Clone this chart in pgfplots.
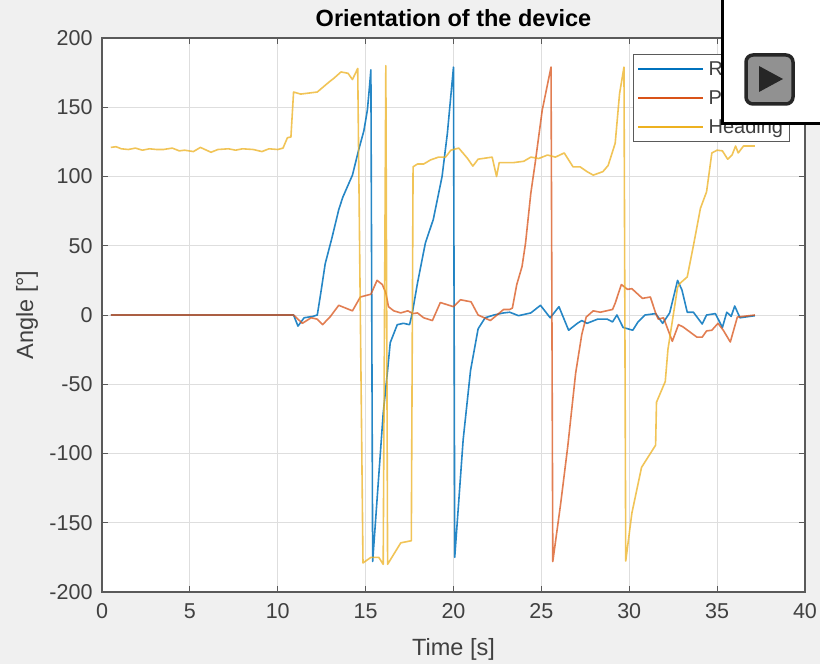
\documentclass[border=0pt]{standalone}
\usepackage{fontspec}
\setmainfont{Liberation Sans}
\usepackage{pgfplots}
\pgfplotsset{compat=1.18}
\definecolor{figbg}{HTML}{F0F0F0}
\definecolor{txt}{HTML}{404040}
\definecolor{axln}{HTML}{5A5A5A}
\definecolor{roll}{HTML}{0072BD}
\definecolor{pitch}{HTML}{D95319}
\definecolor{head}{HTML}{EDB120}
\begin{document}
\begin{tikzpicture}[x=1pt,y=1pt]
\useasboundingbox (0,0) rectangle (820,664);
\fill[figbg] (0,0) rectangle (820,664);
\begin{axis}[
  at={(102pt,72pt)},anchor=south west,
  scale only axis,width=703pt,height=554pt,
  xmin=0,xmax=40,ymin=-200,ymax=200,
  xtick={0,5,...,40},ytick={-200,-150,...,200},
  axis background/.style={fill=white},
  axis line style={draw=axln,line width=1.1pt},
  tick style={draw=axln,line width=0.8pt},
  tick align=inside,major tick length=6pt,
  xtick pos=both,ytick pos=both,
  grid=major,grid style={draw=black!13,line width=0.9pt},
  tick label style={font=\fontsize{21.5}{24}\selectfont,text=txt},
  /pgf/number format/assume math mode=true,
  /pgf/number format/fixed,
  xticklabel style={yshift=-8pt},
  yticklabel style={xshift=-6pt},
  xlabel={Time [s]},ylabel={Angle [°]},
  label style={font=\fontsize{23.5}{26}\selectfont,text=txt},
  xlabel style={at={(axis description cs:0.5,0)},anchor=center,yshift=-57pt},
  ylabel style={at={(axis description cs:0,0.5)},anchor=center,rotate=0,yshift=75pt},
  title={\textbf{Orientation of the device}},
  title style={font=\fontsize{23.5}{26}\selectfont,text=black,at={(axis description cs:0.5,1)},anchor=center,yshift=14pt},
  legend style={at={(0.755,0.971)},anchor=north west,draw=axln,line width=1pt,fill=white,
    font=\fontsize{20}{23}\selectfont,text=txt,inner xsep=4pt,inner ysep=4.5pt,
    row sep=9pt,cells={anchor=west}},
  legend image code/.code={\draw[#1,opacity=1,line width=2pt] (0pt,0pt) -- (65pt,0pt);\path (67.5pt,0pt);},
  clip=true,
]
\addplot[roll,line width=1.6pt,opacity=0.85,line join=round] coordinates {
(0.5,0)(5,0)(10.9,0)(11.15,-8)(11.5,-2)(12,-1)(12.25,0)(12.45,16)(12.7,37)(13.07,55)(13.47,76)(13.7,85)(14.25,101)(14.6,119)(14.9,133)(15.1,148)(15.2,162)(15.3,177)
(15.4,-178)(16.0,-71)(16.25,-40)(16.4,-20)(16.8,-7)(17.15,-6)(17.5,-7)(17.65,1)(17.95,23)(18.4,52)(18.85,69)(19.35,100)(19.65,131)(20,179)
(20.07,-175)(20.55,-90)(20.97,-40)(21.4,-10)(21.8,-2)(22.3,0)(22.85,1.5)(23.2,2)(23.7,-0.5)(24.4,1.5)(24.95,7)(25.5,-2)(26.0,6)(26.55,-11)(27.05,-6)(27.3,-4)(27.6,-6)(28.2,-3)(28.75,-3)(29.05,-5)(29.3,0)(29.65,-9)(30.2,-11)(30.5,-5)(30.9,0)(31.5,1)(31.9,-6)(32.3,1.5)(32.75,25)(33,18)(33.3,2)(33.65,2)(34.15,-6.5)(34.4,0)(34.9,1)(35.3,-9)(35.55,2)(35.8,-1)(36.0,6.5)(36.3,-2)(37.15,-0.5)
};
\addlegendentry{Roll}
\addplot[pitch,line width=1.6pt,opacity=0.75,line join=round] coordinates {
(0.5,0)(5,0)(10.9,0)(11.4,-6)(11.9,-2)(12.25,-3)(12.55,-7)(13,-1)(13.47,7)(14.25,3)(14.7,13)(15.3,15)(15.65,25)(15.95,22)(16.15,16)(16.3,6)(16.6,3)(17,1.5)(17.4,3)(17.7,1)(17.95,1.5)(18.3,-2)(18.8,-4)(19.25,9)(20,6)(20.4,11)(21,9.5)(21.4,0)(22.1,-4)(22.85,4)(23.2,4)(23.35,5)(23.6,22)(23.9,35)(24.1,52)(24.4,88)(24.65,110)(25.05,148)(25.55,179)
(25.65,-178)(26.1,-136)(26.5,-95)(26.95,-42)(27.3,-14)(27.55,-1.5)(27.95,3)(28.35,2)(29.05,4)(29.2,8.5)(29.55,22)(29.9,18.5)(30.15,19)(30.75,12)(31.2,13)(31.5,1.5)(31.65,-3)(31.95,-2)(32.45,-19)(32.8,-7)(33.05,-8.5)(33.85,-16)(34.15,-16)(34.4,-11.5)(34.7,-11)(35.05,-6)(35.35,-11)(35.75,-19.5)(36.15,-1.5)(37.15,0)
};
\addlegendentry{Pitch}
\addplot[head,line width=1.6pt,opacity=0.75,line join=round] coordinates {
(0.5,121)(0.8,121.5)(1.1,120)(1.5,119.5)(1.9,120.5)(2.3,119)(2.7,120)(3.1,119.5)(3.5,119.5)(4.0,120.5)(4.4,118.5)(4.7,119)(5.2,118)(5.6,121)(6.2,117.5)(6.6,119.5)(7.2,120)(7.6,119)(8.0,120)(8.6,119.5)(9.1,118)(9.5,120)(10.0,119.5)(10.3,120.5)
(10.55,128)(10.75,128.5)(10.9,161)(11.3,159.5)(12.25,161)(12.9,168)(13.2,171)(13.6,175.5)(14,174.5)(14.25,170)(14.55,178)
(14.85,-179)(15.3,-175)(15.75,-175)(16,-180)(16.15,180)(16.25,-180)(17,-164.5)(17.6,-163)(17.7,107)(17.95,109)(18.3,109)(18.7,112)(19.15,114)(19.55,114)(19.85,119)(20.3,120.5)(20.8,113)(21.1,107.5)(21.4,112.5)(22.2,114)(22.45,100)(22.6,110)(23.4,110)(24,111)(24.4,114)(24.85,113)(25.35,115.5)(25.8,114)(26.3,117)(26.8,107)(27.2,107)(27.6,103.5)(27.95,101)(28.5,103.5)(28.8,108)(29.2,124)(29.45,160)(29.7,179)
(29.8,-177.6)(30.15,-143)(30.7,-110)(31.5,-94)(31.55,-63)(32.05,-48)(32.2,-25)(32.75,20)(32.9,23)(33.3,27.5)(33.65,50)(34.05,77)(34.4,89)(34.7,117)(35,119)(35.3,118.5)(35.6,112.5)(35.85,115.5)(36.05,122)(36.2,117)(36.5,122)(37.15,122)
};
\addlegendentry{Heading}
\end{axis}
% overlay of the video player
\fill[white,draw=black,line width=3pt] (722,540) rectangle (823,667);
\fill[fill=black!43,draw=black!85,line width=3.5pt,rounded corners=7pt] (746,560) rectangle (793,609);
\fill[black!85] (759,598) -- (783,585) -- (759,572) -- cycle;
\end{tikzpicture}
\end{document}
